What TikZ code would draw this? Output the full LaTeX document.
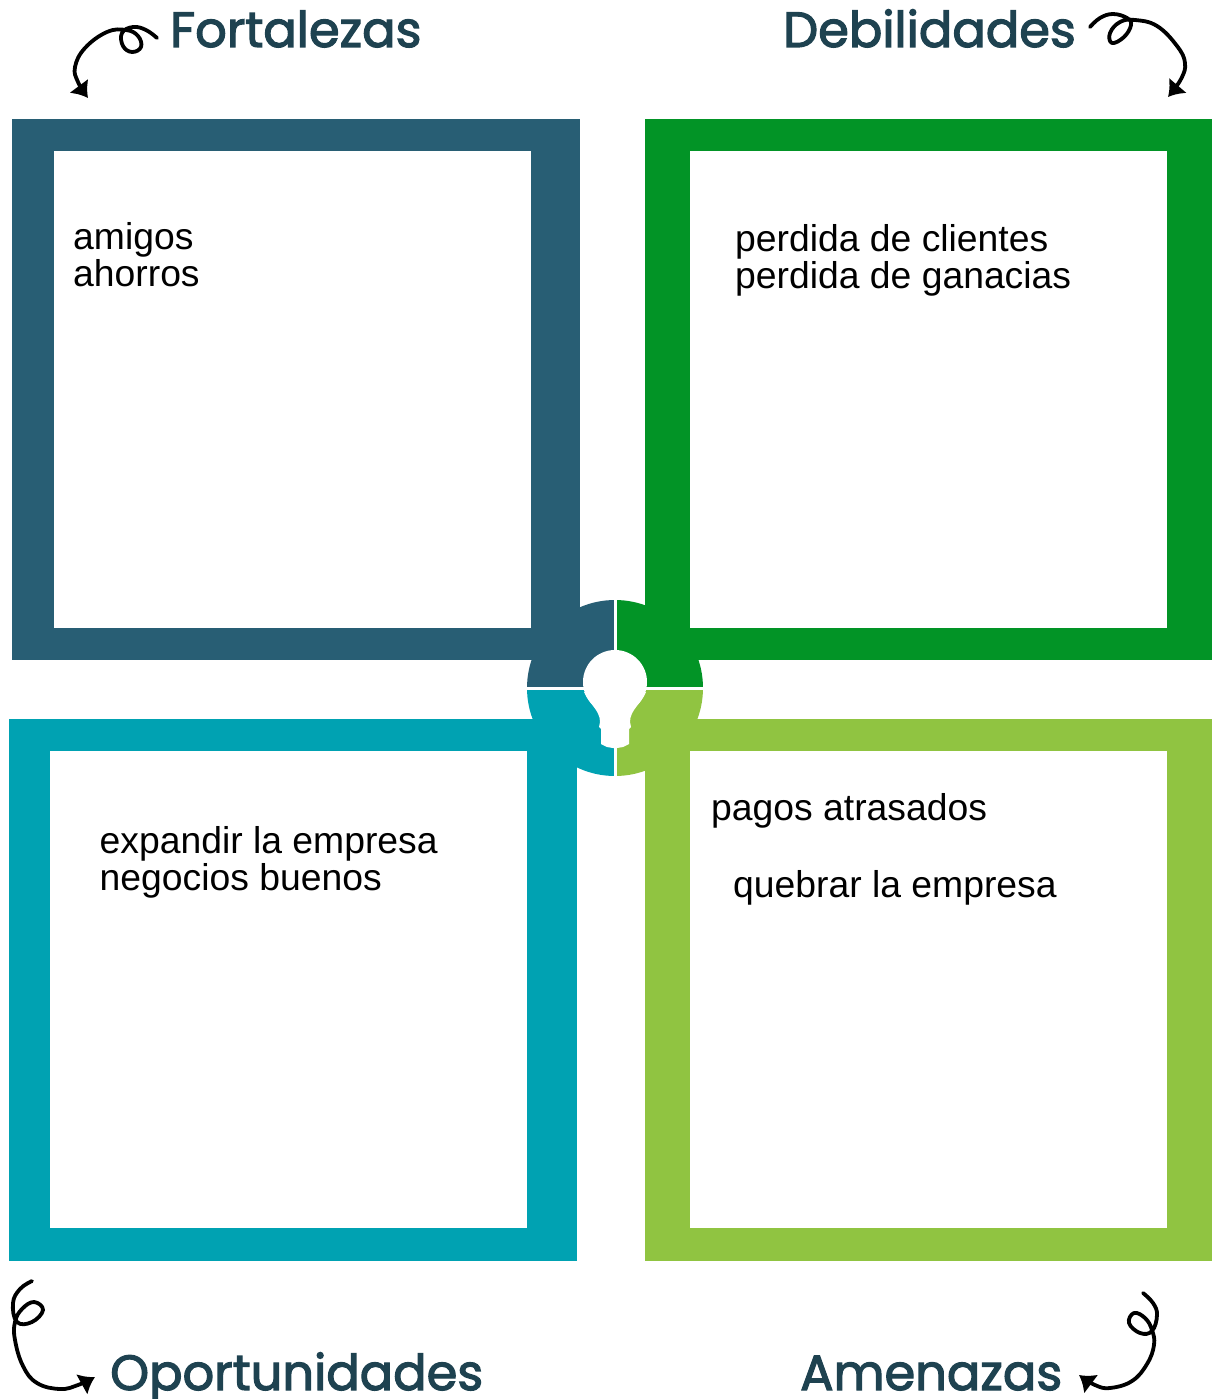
\documentclass[tikz,border=0pt]{standalone}
\usepackage{xcolor}
\usepackage{fontspec}
\setmainfont{Liberation Sans}
\newfontfamily\headfont[FakeBold=2.4]{Poppins}
\usetikzlibrary{arrows.meta}
\definecolor{fortcol}{HTML}{285E74}
\definecolor{debcol}{HTML}{029426}
\definecolor{oporcol}{HTML}{00A2B2}
\definecolor{amencol}{HTML}{90C441}
\definecolor{headcol}{HTML}{1E4250}
\tikzstyle{outerbox} = [rectangle, minimum width=568pt, minimum height=541.5pt, inner sep=0pt, outer sep=0pt]
\tikzstyle{innerbox} = [rectangle, minimum width=477pt, minimum height=477pt, inner sep=0pt, outer sep=0pt, fill=white]
\tikzstyle{heading} = [anchor=base west, inner sep=0pt, text=headcol, font=\headfont\fontsize{49.5}{49}\selectfont]
\tikzstyle{entry} = [anchor=base west, inner sep=0pt, text=black, font=\fontsize{37.3}{37}\selectfont]
\tikzstyle{curl} = [line width=3.8pt, line cap=round, line join=round, black]
\tikzset{curltip/.style={-{Latex[length=#1, width=24pt]}}}

\begin{document}
\begin{tikzpicture}[x=1pt, y=-1pt]
    \useasboundingbox (0,0) rectangle (1212,1399);

    % Draw frames
    \node(fort) [outerbox, fill=fortcol] at (296,389.5) {};
    \node(deb) [outerbox, fill=debcol, minimum width=567pt] at (928.5,389.5) {};
    \node(opor) [outerbox, fill=oporcol] at (293,990) {};
    \node(amen) [outerbox, fill=amencol, minimum width=567pt] at (928.5,990) {};
    \node(fortin) [innerbox] at (292.6,389.5) {};
    \node(debin) [innerbox] at (928.5,389.5) {};
    \node(oporin) [innerbox] at (288.5,989.5) {};
    \node(amenin) [innerbox] at (928.5,989) {};

    % Draw center
    \coordinate (hub) at (615,688);
    \begin{scope}
        \clip (hub) circle[radius=88pt];
        \fill[fortcol] (520,595) rectangle (613.5,686.5);
        \fill[debcol] (616.5,595) rectangle (710,686.5);
        \fill[oporcol] (520,689.5) rectangle (613.5,780);
        \fill[amencol] (616.5,689.5) rectangle (710,780);
    \end{scope}
    \fill[white] (615,682) circle[radius=32pt];
    \fill[white] (584,692) .. controls (589,704) and (600,710) .. (600,722) -- (599,727) -- (601,729) -- (601,744)
        -- (607,747) -- (613,748) -- (617,748) -- (623,747) -- (629,744) -- (629,729)
        -- (631,727) -- (630,722) .. controls (630,710) and (641,704) .. (646,692) -- cycle;

    % Draw headings
    \node(fortlabel) [heading] at (170,47) {Fortalezas};
    \node(deblabel) [heading] at (783,47) {Debilidades};
    \node(oporlabel) [heading] at (110,1390) {Oportunidades};
    \node(amenlabel) [heading] at (800,1390) {Amenazas};

    % Draw entries
    \node(amigos) [entry] at (73,249) {amigos};
    \node(ahorros) [entry] at (73,286) {ahorros};
    \node(clientes) [entry] at (735,251) {perdida de clientes};
    \node(ganancias) [entry] at (735,288) {perdida de ganacias};
    \node(expandir) [entry] at (99.5,853) {expandir la empresa};
    \node(negocios) [entry] at (99.5,890) {negocios buenos};
    \node(pagos) [entry] at (711,820) {pagos atrasados};
    \node(quebrar) [entry] at (733,897) {quebrar la empresa};

    % Draw curls
    \draw[curl, curltip=15pt] plot[smooth, tension=0.7] coordinates {(157,38) (146,30) (133,27) (122,33) (123,46) (132,52) (141,47) (138,36) (126,30) (107,32) (85,48) (75,67) (78,82) (88,98)};
    \draw[curl, curltip=15pt] plot[smooth, tension=0.7] coordinates {(1090,27) (1100,18) (1113,14) (1127,18) (1131,25) (1124,37) (1112,43) (1110,33) (1120,22) (1135,20) (1157,26) (1177,46) (1185,63) (1181,79) (1168,97)};
    \draw[curl, curltip=15pt] plot[smooth, tension=0.7] coordinates {(32,1281) (20,1289) (13,1303) (17,1322) (32,1322) (43,1310) (34,1302) (22,1309) (15,1322) (15,1340) (23,1366) (37,1383) (60,1389) (78,1385) (95,1377)};
    \draw[curl, curltip=15pt] plot[smooth, tension=0.7] coordinates {(1143,1293) (1153,1303) (1157,1315) (1152,1331) (1140,1333) (1129,1323) (1134,1313) (1145,1318) (1152,1330) (1154,1345) (1147,1364) (1132,1381) (1110,1388) (1095,1385) (1079,1375)};
\end{tikzpicture}
\end{document}
